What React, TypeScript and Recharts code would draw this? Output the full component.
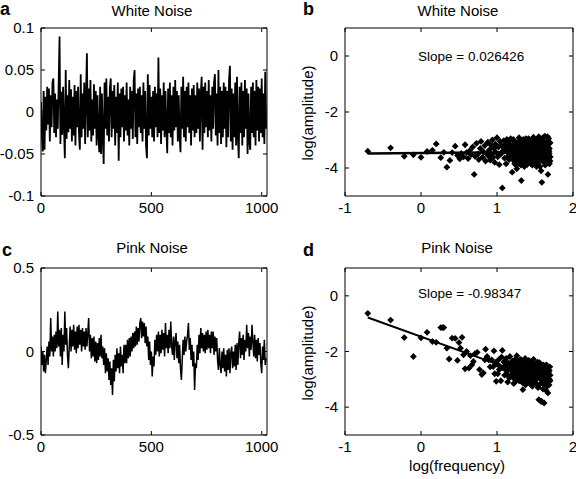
import React from 'react';
import { LineChart, Line, ComposedChart, Scatter, XAxis, YAxis, ReferenceLine } from 'recharts';

const W = 576;
const H = 479;
const FONT = "'Liberation Sans', Arial, Helvetica, sans-serif";

// sample spacing of the time series (every 4th sample of 1024)
const sampleStep = 4;

const whiteNoise = [
  0.012, -0.028, -0.047, 0.025, -0.045, 0.018, -0.022, 0.03, -0.015, 0.028, -0.035, 0.02, -0.018, 0.035, 0.04, -0.025,
  0.022, -0.03, 0.015, -0.02, 0.033, 0.09, -0.038, 0.024, -0.027, 0.03, -0.016, -0.055, 0.05, -0.032, 0.02, -0.024,
  0.038, -0.02, 0.027, -0.035, 0.018, -0.028, 0.032, -0.04, 0.025, -0.018, 0.03, -0.025, -0.045, 0.045, -0.03, 0.022,
  -0.02, 0.035, -0.038, 0.02, 0.07, -0.03, 0.028, -0.022, 0.038, -0.035, 0.015, -0.028, 0.033, -0.02, 0.025, -0.04,
  0.02, -0.025, -0.048, 0.03, -0.05, 0.022, -0.03, -0.062, 0.035, -0.02, 0.04, -0.028, 0.018, -0.035, 0.028, 0.04,
  -0.03, 0.025, -0.02, 0.032, -0.04, 0.018, -0.025, 0.035, -0.058, 0.022, -0.03, 0.028, -0.018, 0.03, -0.035, 0.02,
  -0.022, 0.035, -0.028, 0.015, -0.04, 0.03, -0.02, 0.025, -0.032, 0.038, 0.05, -0.03, 0.022, -0.038, 0.028, -0.018,
  0.03, -0.025, 0.02, -0.035, 0.035, -0.02, 0.025, -0.04, -0.055, 0.045, -0.028, 0.032, -0.02, 0.018, -0.03, 0.025,
  -0.035, 0.03, -0.018, 0.022, -0.03, 0.065, -0.025, 0.028, -0.038, 0.02, -0.022, 0.035, -0.03, 0.025, -0.02, -0.049,
  0.028, -0.025, 0.035, -0.03, 0.02, -0.04, 0.03, -0.022, 0.038, -0.018, 0.025, -0.035, 0.02, -0.028, -0.048, 0.03,
  -0.02, 0.042, -0.03, 0.025, -0.035, 0.03, -0.018, 0.035, -0.025, 0.02, -0.04, 0.028, -0.022, 0.032, -0.03, 0.02,
  -0.025, 0.035, -0.02, 0.028, -0.035, 0.022, 0.042, -0.045, 0.03, -0.025, 0.035, -0.018, 0.025, -0.03, 0.038, -0.022,
  0.02, -0.035, 0.03, -0.02, 0.035, 0.045, -0.028, 0.022, -0.04, 0.05, -0.025, 0.03, -0.038, 0.025, -0.03, 0.035,
  -0.02, 0.03, -0.042, 0.025, -0.03, 0.038, 0.055, -0.035, 0.028, -0.045, 0.022, -0.03, 0.035, -0.04, 0.042, -0.028,
  -0.055, 0.03, -0.025, 0.035, -0.04, 0.025, -0.03, 0.038, -0.02, 0.028, -0.05, 0.022, -0.035, -0.045, 0.03, -0.025,
  0.035, -0.03, 0.025, -0.04, 0.038, -0.022, 0.03, -0.035, 0.028, -0.025, 0.04, -0.03, 0.022, -0.038, 0.048, -0.02,
];

const pinkNoise = [
  0.03, -0.08, 0.00, -0.12, -0.02, -0.13, -0.05, 0.03, -0.08, 0.06, -0.03, 0.20, 0.00, 0.09, -0.03, 0.10,
  0.00, 0.12, 0.02, 0.24, 0.03, 0.13, -0.03, 0.14, -0.08, 0.10, 0.00, 0.24, 0.04, 0.14, -0.02, -0.10,
  0.03, 0.15, 0.00, 0.13, 0.03, 0.16, 0.01, 0.12, -0.01, 0.15, 0.02, 0.16, 0.04, 0.13, 0.00, 0.14,
  0.03, 0.12, 0.01, 0.14, 0.03, 0.11, 0.20, 0.00, 0.10, -0.04, 0.08, -0.03, 0.09, -0.06, 0.06, -0.07,
  0.05, -0.05, 0.08, -0.03, 0.10, -0.04, 0.03, -0.08, 0.02, -0.13, -0.01, -0.12, -0.04, -0.17, -0.06, -0.20,
  -0.10, -0.26, -0.05, -0.18, -0.02, -0.12, 0.02, -0.10, -0.01, -0.13, 0.03, -0.09, -0.02, -0.13, 0.04, -0.07,
  0.04, -0.07, 0.07, -0.04, 0.08, -0.03, 0.09, 0.00, 0.11, 0.02, 0.12, 0.03, 0.15, 0.04, 0.14, 0.06,
  0.17, 0.20, 0.08, 0.18, 0.09, 0.17, 0.05, 0.15, 0.03, 0.09, -0.05, 0.06, -0.08, 0.00, -0.15, -0.03,
  -0.09, 0.07, -0.02, 0.10, 0.00, 0.12, -0.03, 0.10, -0.01, 0.13, 0.01, 0.11, -0.03, 0.17, 0.02, 0.10,
  -0.01, 0.13, 0.02, 0.18, 0.03, -0.02, 0.09, -0.05, 0.07, 0.11, -0.04, 0.06, -0.07, 0.04, -0.10, -0.17,
  -0.05, 0.07, -0.02, 0.09, 0.00, 0.06, 0.10, 0.17, 0.01, 0.08, -0.05, 0.04, -0.09, 0.00, -0.23, -0.07,
  -0.10, 0.04, -0.05, 0.10, -0.01, 0.14, 0.02, 0.11, 0.00, 0.10, -0.01, 0.12, 0.01, 0.13, 0.02, 0.10,
  -0.01, 0.12, 0.02, 0.12, -0.02, 0.09, 0.00, 0.08, -0.05, -0.11, 0.02, -0.08, -0.13, 0.00, -0.10, 0.02,
  -0.12, -0.02, -0.15, 0.01, -0.11, 0.02, -0.13, -0.01, 0.03, -0.10, 0.00, -0.09, 0.04, -0.11, 0.05, -0.08,
  0.05, 0.12, -0.04, 0.08, -0.02, 0.10, -0.05, 0.07, 0.00, 0.16, 0.02, 0.11, -0.03, 0.09, 0.01, 0.16,
  0.06, -0.03, 0.10, -0.04, 0.07, -0.06, 0.08, -0.02, 0.05, -0.07, -0.13, 0.03, -0.05, 0.07, -0.08, -0.04,
];

// [log(frequency), log(amplitude)]
const whiteSpectrum: [number, number][] = [
  [-0.70, -3.40], [-0.40, -3.28], [-0.22, -3.58], [-0.10, -3.53], [0.00, -3.62], [0.08, -3.41], [0.15, -3.37], [0.20, -3.14],
  [0.26, -3.63], [0.30, -3.44], [0.34, -3.97], [0.38, -3.73], [0.41, -3.45], [0.45, -3.22], [0.48, -3.55], [0.51, -3.67],
  [0.53, -3.48], [0.56, -3.60], [0.58, -3.17], [0.60, -3.45], [0.62, -3.66], [0.64, -3.38], [0.66, -3.52], [0.68, -3.25],
  [0.70, -4.23], [0.71, -3.58], [0.73, -3.12], [0.75, -3.50], [0.76, -3.70], [0.78, -3.30], [0.79, -3.05], [0.81, -3.62],
  [0.82, -3.42], [0.84, -3.20], [0.85, -3.75], [0.86, -3.48], [0.88, -3.08], [0.89, -3.58], [0.90, -3.35], [0.91, -3.72],
  [0.92, -3.18], [0.93, -3.52], [0.94, -3.00], [0.95, -3.62], [0.96, -3.30], [0.97, -3.80], [0.98, -3.15], [0.99, -3.45],
  [1.00, -2.92], [1.01, -3.60], [1.02, -3.25], [1.03, -3.88], [1.04, -3.05], [1.05, -3.50], [1.06, -3.20], [1.07, -4.71],
  [1.08, -3.38], [1.09, -3.02], [1.10, -3.65], [1.11, -3.28], [1.12, -3.85], [1.13, -2.98], [1.14, -3.45], [1.15, -3.12],
  [1.16, -3.70], [1.17, -3.35], [1.18, -2.95], [1.19, -3.55], [1.20, -4.15], [1.21, -3.22], [1.22, -3.62], [1.23, -3.05],
  [1.24, -3.42], [1.25, -3.88], [1.26, -4.03], [1.27, -3.15], [1.28, -3.52], [1.29, -2.92], [1.30, -3.72], [1.31, -3.30],
  [1.32, -4.45], [1.33, -3.05], [1.34, -3.60], [1.35, -3.40], [1.36, -3.95], [1.37, -3.18], [1.38, -2.95], [1.39, -3.50],
  [1.40, -3.78], [1.41, -3.25], [1.42, -3.62], [1.43, -3.02], [1.44, -3.45], [1.45, -3.85], [1.46, -3.12], [1.47, -3.58],
  [1.48, -2.90], [1.49, -3.35], [1.50, -3.72], [1.51, -3.08], [1.52, -3.95], [1.53, -3.48], [1.54, -3.20], [1.55, -2.88],
  [1.56, -3.65], [1.57, -3.30], [1.58, -4.10], [1.59, -3.02], [1.59, -4.51], [1.60, -3.55], [1.61, -3.15], [1.62, -3.80],
  [1.63, -2.86], [1.64, -3.42], [1.65, -3.68], [1.66, -3.05], [1.67, -4.23], [1.67, -3.50], [1.68, -2.95], [1.69, -3.30],
  [1.69, -3.85], [1.70, -3.10], [1.70, -3.60],
  [1.205, -3.40], [1.215, -2.98], [1.225, -3.75], [1.235, -3.30], [1.245, -3.58], [1.255, -3.10], [1.265, -3.48], [1.275, -3.85],
  [1.285, -3.25], [1.295, -3.05], [1.305, -3.55], [1.315, -3.90], [1.325, -3.20], [1.335, -3.48], [1.345, -2.98], [1.355, -3.70],
  [1.365, -3.32], [1.375, -3.58], [1.385, -3.10], [1.395, -3.88], [1.405, -3.42], [1.415, -2.95], [1.425, -3.75], [1.435, -3.30],
  [1.445, -3.60], [1.455, -3.18], [1.465, -3.90], [1.475, -3.40], [1.485, -3.65], [1.495, -3.00], [1.505, -3.52], [1.515, -3.80],
  [1.525, -3.25], [1.535, -3.62], [1.545, -2.95], [1.555, -3.42], [1.565, -3.95], [1.575, -3.10], [1.585, -3.68], [1.595, -3.35],
  [1.605, -2.92], [1.615, -3.58], [1.625, -3.22], [1.635, -3.90], [1.645, -3.12], [1.655, -3.45], [1.665, -2.88], [1.675, -3.75],
  [1.685, -3.40], [1.695, -3.62],
  [1.102, -3.40], [1.118, -3.15], [1.132, -3.62], [1.148, -3.30], [1.162, -3.05], [1.178, -3.50], [1.192, -3.22], [1.212, -3.50],
  [1.222, -3.18], [1.232, -3.85], [1.242, -3.12], [1.252, -3.70], [1.262, -3.25], [1.272, -3.38], [1.282, -3.72], [1.292, -3.35],
  [1.308, -3.38], [1.318, -3.65], [1.328, -3.12], [1.338, -3.80], [1.348, -3.28], [1.358, -3.52], [1.368, -3.02], [1.378, -3.70],
  [1.388, -3.45], [1.398, -3.20], [1.408, -3.62], [1.418, -3.35], [1.428, -3.08], [1.438, -3.52], [1.448, -3.78], [1.458, -3.40],
  [1.468, -3.15], [1.478, -3.68], [1.488, -3.25], [1.498, -3.48], [1.508, -3.10], [1.518, -3.62], [1.528, -3.38], [1.538, -3.82],
  [1.548, -3.15], [1.558, -3.55], [1.568, -3.28], [1.578, -3.48], [1.588, -2.98], [1.598, -3.75], [1.608, -3.40], [1.618, -3.05],
  [1.628, -3.52], [1.638, -3.30], [1.648, -3.70], [1.658, -3.22], [1.668, -3.58], [1.678, -3.15], [1.688, -3.48], [1.698, -3.75],
];

const pinkSpectrum: [number, number][] = [
  [-0.70, -0.63], [-0.40, -0.87], [-0.22, -1.50], [-0.10, -2.18], [0.00, -1.51], [0.08, -1.31], [0.15, -1.64], [0.20, -1.67],
  [0.26, -1.14], [0.28, -1.14], [0.30, -1.14], [0.34, -1.88], [0.37, -2.27], [0.41, -1.52], [0.45, -1.53], [0.48, -2.32],
  [0.50, -1.68], [0.52, -1.88], [0.54, -1.49], [0.56, -2.12], [0.58, -2.62], [0.60, -2.00], [0.63, -2.60], [0.65, -2.15],
  [0.67, -2.48], [0.69, -2.36], [0.71, -2.08], [0.74, -2.03], [0.77, -2.65], [0.80, -2.83], [0.82, -2.77], [0.84, -2.30],
  [0.85, -1.92], [0.87, -2.18], [0.89, -2.30], [0.91, -2.55], [0.93, -2.30], [0.95, -2.54], [0.96, -1.98], [0.97, -2.80],
  [0.98, -2.40], [0.99, -3.07],
  [1.00, -2.45], [1.01, -2.80], [1.02, -2.30], [1.03, -2.65], [1.04, -2.54], [1.05, -3.05], [1.06, -2.20], [1.07, -1.96],
  [1.08, -2.60], [1.09, -2.38], [1.10, -2.85], [1.11, -2.50], [1.12, -2.25], [1.13, -2.70], [1.14, -3.10], [1.15, -2.42],
  [1.16, -2.58], [1.17, -2.18], [1.18, -2.88], [1.19, -2.52], [1.20, -2.35], [1.21, -2.75], [1.22, -3.15], [1.23, -2.45],
  [1.24, -2.62], [1.25, -2.28], [1.26, -2.15], [1.27, -2.90], [1.28, -2.55], [1.29, -2.40], [1.30, -3.00], [1.31, -2.68],
  [1.32, -2.30], [1.33, -2.82], [1.34, -3.37], [1.35, -2.50], [1.36, -2.72], [1.37, -2.25], [1.38, -2.95], [1.39, -2.60],
  [1.40, -2.40], [1.41, -3.10], [1.42, -2.78], [1.43, -2.35], [1.44, -2.65], [1.45, -3.20], [1.46, -2.50], [1.47, -2.85],
  [1.48, -2.28], [1.49, -2.70], [1.50, -3.05], [1.51, -2.45], [1.52, -2.92], [1.53, -2.58], [1.54, -3.30], [1.55, -3.73],
  [1.56, -2.40], [1.57, -2.80], [1.58, -3.80], [1.59, -2.62], [1.60, -3.15], [1.61, -2.48], [1.62, -3.85], [1.63, -2.75],
  [1.64, -2.95], [1.65, -2.48], [1.66, -3.25], [1.67, -3.49], [1.68, -2.70], [1.69, -3.00], [1.70, -2.85],
  [1.205, -2.62], [1.215, -2.95], [1.225, -2.40], [1.235, -2.80], [1.245, -2.50], [1.255, -3.05], [1.265, -2.35], [1.275, -2.72],
  [1.285, -2.98], [1.295, -2.55], [1.305, -2.28], [1.315, -2.85], [1.325, -2.62], [1.335, -3.12], [1.345, -2.42], [1.355, -2.90],
  [1.365, -2.55], [1.375, -3.20], [1.385, -2.40], [1.395, -2.82], [1.405, -2.60], [1.415, -2.32], [1.425, -3.02], [1.435, -2.70],
  [1.445, -2.48], [1.455, -2.88], [1.465, -3.25], [1.475, -2.58], [1.485, -2.95], [1.495, -2.42], [1.505, -2.75], [1.515, -3.15],
  [1.525, -2.62], [1.535, -2.38], [1.545, -2.90], [1.555, -3.20], [1.565, -2.55], [1.575, -3.00], [1.585, -3.78], [1.595, -2.70],
  [1.605, -3.35], [1.615, -2.52], [1.625, -3.05], [1.635, -2.80], [1.645, -3.40], [1.655, -2.60], [1.665, -3.10], [1.675, -2.75],
  [1.685, -3.20], [1.695, -2.55],
  [1.102, -2.60], [1.118, -2.38], [1.132, -2.82], [1.148, -2.55], [1.162, -2.95], [1.178, -2.45], [1.192, -2.70], [1.212, -2.50],
  [1.222, -2.85], [1.232, -2.30], [1.242, -2.72], [1.252, -2.58], [1.262, -2.95], [1.272, -2.42], [1.282, -2.65], [1.292, -3.05],
  [1.308, -2.48], [1.318, -2.72], [1.328, -2.95], [1.338, -2.38], [1.348, -2.70], [1.358, -2.52], [1.368, -3.00], [1.378, -2.62],
  [1.388, -2.78], [1.398, -2.35], [1.408, -2.88], [1.418, -2.62], [1.428, -2.45], [1.438, -3.05], [1.448, -2.75], [1.458, -2.55],
  [1.468, -2.92], [1.478, -2.40], [1.488, -2.68], [1.498, -3.10], [1.508, -2.58], [1.518, -2.85], [1.528, -2.45], [1.538, -2.72],
  [1.548, -2.60], [1.558, -2.95], [1.568, -2.75], [1.578, -2.50], [1.588, -2.88], [1.598, -3.10], [1.608, -2.62], [1.618, -2.90],
  [1.628, -2.68], [1.638, -3.18], [1.648, -2.55], [1.658, -2.85], [1.668, -2.65], [1.678, -2.98], [1.688, -2.68], [1.698, -3.05],
];

const whiteFit: [number, number][] = [[-0.7, -3.48], [1.7, -3.42]];
const pinkFit: [number, number][] = [[-0.7, -0.78], [1.7, -3.14]];

const timeTicks = [0, 500, 1000];
const whiteTicks = [-0.1, -0.05, 0, 0.05, 0.1];
const pinkTicks = [-0.5, 0, 0.5];
const freqTicks = [-1, 0, 1, 2];
const ampTicks = [-4, -2, 0];

const whiteData = whiteNoise.map((v, i) => ({ t: i * sampleStep, v }));
const pinkData = pinkNoise.map((v, i) => ({ t: i * sampleStep, v }));
const whitePts = whiteSpectrum.map(([x, y]) => ({ x, y }));
const pinkPts = pinkSpectrum.map(([x, y]) => ({ x, y }));

const TL = 4;
const BottomTick = (p: any) => (
  <g>
    <line x1={p.x} x2={p.x} y1={p.y} y2={p.y - TL} stroke="#000" strokeWidth={1} />
    <text x={p.x} y={p.y + 17} textAnchor="middle" fontSize={15} fontFamily={FONT} fill="#000">
      {String(p.payload.value)}
    </text>
  </g>
);
const TopTick = (p: any) => <line x1={p.x} x2={p.x} y1={p.y} y2={p.y + TL} stroke="#000" strokeWidth={1} />;
const LeftTick = (p: any) => (
  <g>
    <line x1={p.x} x2={p.x + TL} y1={p.y} y2={p.y} stroke="#000" strokeWidth={1} />
    <text x={p.x - 7} y={p.y + 5} textAnchor="end" fontSize={15} fontFamily={FONT} fill="#000">
      {String(p.payload.value)}
    </text>
  </g>
);
const RightTick = (p: any) => <line x1={p.x - TL} x2={p.x} y1={p.y} y2={p.y} stroke="#000" strokeWidth={1} />;

const Diamond = (p: any) => {
  const r = 3.4;
  const { cx, cy } = p;
  if (cx == null || cy == null) return <g />;
  return <polygon points={`${cx},${cy - r} ${cx + r},${cy} ${cx},${cy + r} ${cx - r},${cy}`} fill="#000" />;
};

const axisLine = { stroke: '#000', strokeWidth: 1 };

function axes(xKey: string, xDomain: number[], xTicks: number[], yKey: string, yDomain: number[], yTicks: number[]) {
  return [
    <XAxis key="xb" xAxisId="b" dataKey={xKey} type="number" domain={xDomain} ticks={xTicks} interval={0}
      allowDataOverflow height={1} tickSize={0} tickMargin={0} tickLine={false} axisLine={axisLine} tick={BottomTick} />,
    <XAxis key="xt" xAxisId="t" orientation="top" dataKey={xKey} type="number" domain={xDomain} ticks={xTicks} interval={0}
      allowDataOverflow height={1} tickSize={0} tickMargin={0} tickLine={false} axisLine={axisLine} tick={TopTick} />,
    <YAxis key="yl" yAxisId="l" dataKey={yKey} type="number" domain={yDomain} ticks={yTicks} interval={0}
      allowDataOverflow width={1} tickSize={0} tickMargin={0} tickLine={false} axisLine={axisLine} tick={LeftTick} />,
    <YAxis key="yr" yAxisId="r" orientation="right" dataKey={yKey} type="number" domain={yDomain} ticks={yTicks} interval={0}
      allowDataOverflow width={1} tickSize={0} tickMargin={0} tickLine={false} axisLine={axisLine} tick={RightTick} />,
  ];
}

const layer: React.CSSProperties = { position: 'absolute', left: 0, top: 0 };

export default function App() {
  return (
    <div style={{ position: 'absolute', left: 0, top: 0, width: W, height: H, background: '#fff', overflow: 'hidden' }}>
      <div style={layer}>
        <LineChart width={W} height={H} data={whiteData} margin={{ top: 27, right: 308, bottom: 282, left: 40 }}>
          {axes('t', [0, 1024], timeTicks, 'v', [-0.1, 0.1], whiteTicks)}
          <Line xAxisId="b" yAxisId="l" dataKey="v" type="linear" dot={false} stroke="#000" strokeWidth={1.8} isAnimationActive={false} />
        </LineChart>
      </div>
      <div style={layer}>
        <LineChart width={W} height={H} data={pinkData} margin={{ top: 267, right: 308, bottom: 43, left: 40 }}>
          {axes('t', [0, 1024], timeTicks, 'v', [-0.5, 0.5], pinkTicks)}
          <Line xAxisId="b" yAxisId="l" dataKey="v" type="linear" dot={false} stroke="#000" strokeWidth={1.5} isAnimationActive={false} />
        </LineChart>
      </div>
      <div style={layer}>
        <ComposedChart width={W} height={H} margin={{ top: 27, right: 2, bottom: 282, left: 344 }}>
          {axes('x', [-1, 2], freqTicks, 'y', [-5, 1], ampTicks)}
          <ReferenceLine xAxisId="b" yAxisId="l" ifOverflow="visible" stroke="#000" strokeWidth={2.5}
            segment={[{ x: whiteFit[0][0], y: whiteFit[0][1] }, { x: whiteFit[1][0], y: whiteFit[1][1] }]} />
          <Scatter xAxisId="b" yAxisId="l" data={whitePts} dataKey="y" shape={Diamond} isAnimationActive={false} />
        </ComposedChart>
      </div>
      <div style={layer}>
        <ComposedChart width={W} height={H} margin={{ top: 267, right: 2, bottom: 43, left: 344 }}>
          {axes('x', [-1, 2], freqTicks, 'y', [-5, 1], ampTicks)}
          <ReferenceLine xAxisId="b" yAxisId="l" ifOverflow="visible" stroke="#000" strokeWidth={2}
            segment={[{ x: pinkFit[0][0], y: pinkFit[0][1] }, { x: pinkFit[1][0], y: pinkFit[1][1] }]} />
          <Scatter xAxisId="b" yAxisId="l" data={pinkPts} dataKey="y" shape={Diamond} isAnimationActive={false} />
        </ComposedChart>
      </div>
      <svg width={W} height={H} style={{ ...layer, pointerEvents: 'none' }} fontFamily={FONT} fill="#000">
        <text x={0} y={15} fontSize={18} fontWeight="bold">a</text>
        <text x={303} y={15} fontSize={18} fontWeight="bold">b</text>
        <text x={2} y={256} fontSize={18} fontWeight="bold">c</text>
        <text x={303} y={256} fontSize={18} fontWeight="bold">d</text>
        <text x={152} y={16} fontSize={15} textAnchor="middle">White Noise</text>
        <text x={458} y={16} fontSize={15} textAnchor="middle">White Noise</text>
        <text x={152} y={253} fontSize={15} textAnchor="middle">Pink Noise</text>
        <text x={457} y={253} fontSize={15} textAnchor="middle">Pink Noise</text>
        <text x={418} y={61} fontSize={13.5}>Slope = 0.026426</text>
        <text x={418} y={298} fontSize={13.5}>Slope = -0.98347</text>
        <text transform="translate(313,113) rotate(-90)" fontSize={15} textAnchor="middle">log(amplitude)</text>
        <text transform="translate(313,353) rotate(-90)" fontSize={15} textAnchor="middle">log(amplitude)</text>
        <text x={457} y={471} fontSize={15} textAnchor="middle">log(frequency)</text>
      </svg>
    </div>
  );
}
